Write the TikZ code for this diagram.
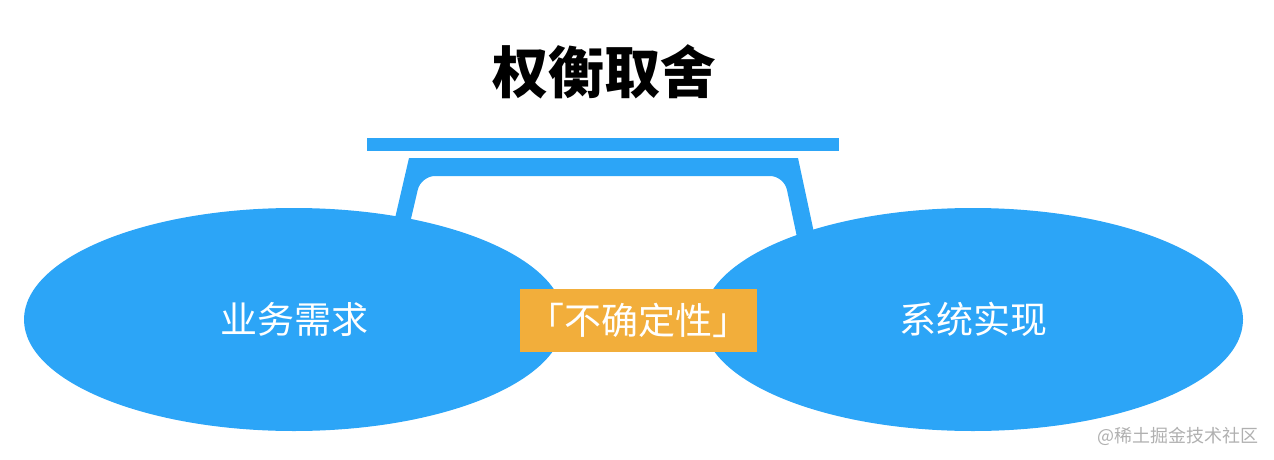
\documentclass[tikz,border=0pt]{standalone}
\usepackage{fontspec}
\usetikzlibrary{shapes.geometric}
\newfontfamily\cjk{Noto Sans CJK SC}
\definecolor{skyblue}{RGB}{44,165,247}
\definecolor{amber}{RGB}{242,174,59}
\definecolor{markgray}{RGB}{176,176,176}

\begin{document}
\begin{tikzpicture}[x=1pt,y=-1pt,
  side/.style={ellipse,fill=skyblue,minimum width=540pt,minimum height=223pt,
    inner sep=0pt,text=white,font=\cjk\fontsize{37}{40}\selectfont},
  tag/.style={rectangle,fill=amber,minimum width=237pt,minimum height=63pt,
    inner sep=0pt,text=white,font=\cjk\fontsize{37}{40}\selectfont}]
  \useasboundingbox (0,0) rectangle (1274,460);

  % Title
  \node (title) at (604,72) {\cjk\bfseries\fontsize{56}{60}\selectfont 权衡取舍};

  % Beam and its support
  \node[fill=skyblue,minimum width=472pt,minimum height=13pt,inner sep=0pt] (beam) at (603,144.5) {};
  \fill[skyblue] (383,270) -- (409,158) -- (798,158) -- (822,270)
    [rounded corners=14pt] -- (804,270) -- (784,176) -- (421,176) -- (399,270)
    [sharp corners] -- cycle;

  % The two sides
  \node[side] (biz) at (294,319.5) {业务需求};
  \node[side] (sys) at (973,319.5) {系统实现};

  % In between
  \node[tag] (doubt) at (638.5,320.5) {「不确定性」};

  % Watermark
  \node[text=markgray,font=\cjk\fontsize{18}{20}\selectfont] (mark) at (1178,436) {@稀土掘金技术社区};
\end{tikzpicture}
\end{document}
